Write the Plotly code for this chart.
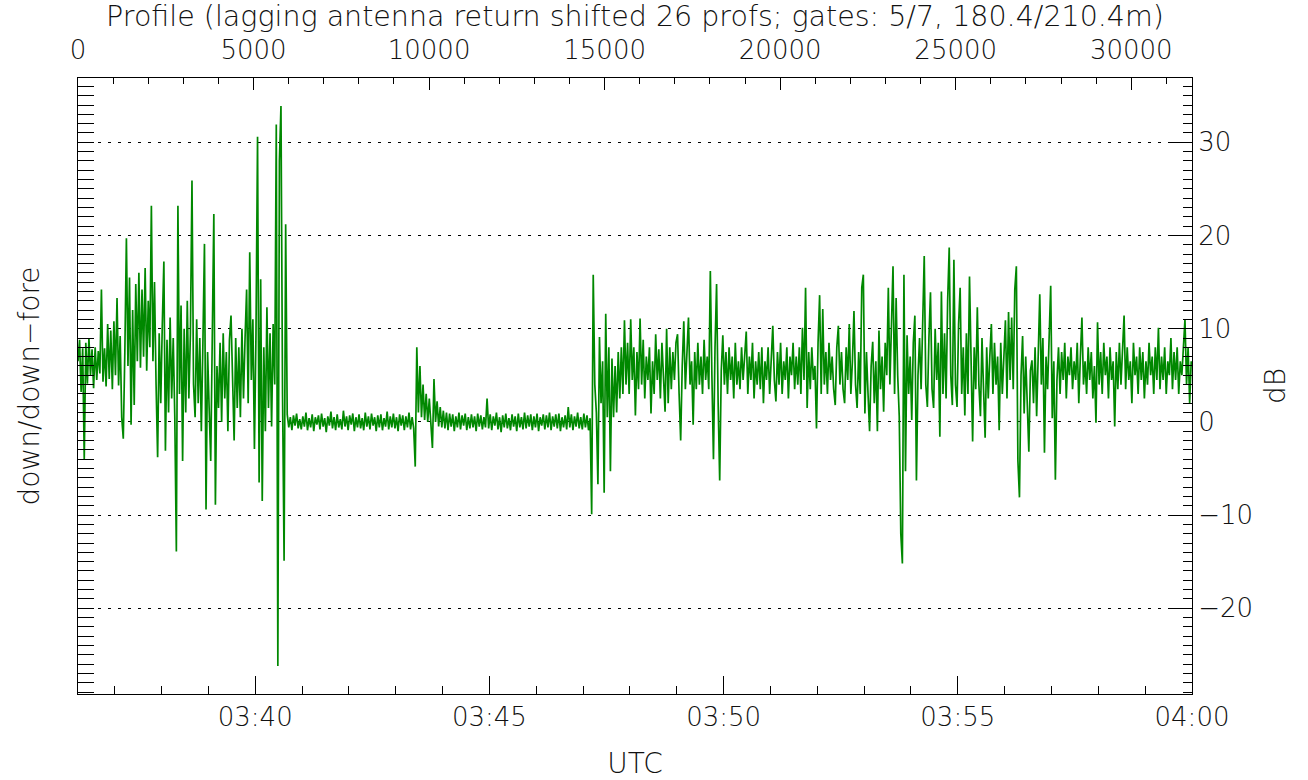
import pandas as pd
import plotly.graph_objects as go

# sampling: 2 s steps starting 03:36:13 UTC
start_time = "2000-01-01 03:36:13"
step_seconds = 2
x_time_range = ["2000-01-01 03:36:13", "2000-01-01 04:00:00"]
profile_range = [0, 31730]
db_range = [-29.2, 36.9]

# active segment (03:36 - 03:40:40)
seg_active_1 = [
    6.5, 8.8, 3.2, 7.9, -4.0, 8.5, 4.1, 9.0, 5.0, 7.8,
    3.6, 8.0, 4.5, 7.6, 5.2, 14.2, 4.3, 7.9, 3.8, 10.5,
    4.6, 9.8, 3.5, 10.8, 5.0, 13.3, 3.9, 9.2, 0.5, -1.8,
    7.5, 19.7, 6.0, 15.5, -0.3, 12.0, 1.8, 14.8, 6.5, 16.0,
    5.8, 14.2, 7.0, 16.5, 5.5, 13.0, 8.0, 23.2, 6.5, 15.0,
    4.0, -3.8, 9.5, 2.0, 10.5, 17.2, -3.1, 8.8, 1.0, 11.2,
    2.5, 9.0, 0.5, -13.9, 23.2, 3.0, 12.5, -4.2, 10.0, 1.0,
    13.0, 2.5, 9.5, 25.9, 4.0, 0.5, 11.0, 2.0, 9.0, -1.0,
    8.5, 19.1, -9.4, 7.5, 1.5, -4.2, 9.0, 22.3, -8.9, 6.0,
    1.5, 8.5, 0.0, 9.5, 2.5, 7.5, -1.0, 8.8, 11.4, 3.0,
    -2.0, 9.0, 1.5, 8.0, 0.5, 10.0, 2.5, 9.0, 14.2, 2.0,
    18.2, 4.5, 11.0, -2.9, 9.5, 30.6, -6.5, 15.3, -8.5, 8.0,
    -1.0, 12.3, 1.5, 9.5, -0.5, 10.5, 4.0, 31.9, -26.2, 28.0,
    33.9, 3.0, -14.9, 21.2,
]

# quiet segment (03:40:41 - 03:47:09)
seg_quiet = [
    0.8, -0.6, 0.5, -0.9, 0.7, -0.4, 0.9, -0.7, 0.3, -0.8,
    0.6, -0.5, 1.0, -0.9, 0.4, -0.6, 0.8, -1.0, 0.5, -0.3,
    0.7, -0.8, 0.9, -0.5, 0.4, -1.1, 0.6, -0.4, 1.1, -0.7,
    0.5, -0.9, 0.8, -0.6, 0.3, -0.8, 1.2, -0.5, 0.6, -0.9,
    0.7, -0.3, 0.9, -1.0, 0.5, -0.6, 0.8, -0.7, 0.4, -0.9,
    1.0, -0.5, 0.6, -0.8, 0.9, -0.4, 0.5, -1.0, 0.7, -0.6,
    0.8, -0.9, 0.4, -0.5, 1.1, -0.8, 0.6, -0.6, 0.9, -0.7,
    0.5, -1.0, 0.8, -0.4, 0.7, -0.9, 0.6, -0.6, 1.0, -0.8,
    0.5, -0.7, -4.8, 8.0, 1.0, 6.0, 0.5, 4.0, 0.2, 3.0,
    0.0, 2.5, 0.3, -2.8, 4.6, 0.0, 2.2, -0.5, 1.6, -0.6,
    1.2, -0.7, 1.0, -0.9, 0.9, -0.5, 0.8, -1.0, 0.6, -0.6,
    1.0, -0.8, 0.7, -0.4, 0.9, -0.9, 0.5, -0.7, 0.8, -0.6,
    0.6, -1.0, 0.9, -0.5, 0.7, -0.8, 0.5, -0.6, 2.5, -0.7,
    0.8, -0.9, 0.6, -0.4, 1.0, -0.8, 0.5, -1.1, 0.7, -0.6,
    0.9, -0.7, 0.4, -0.9, 0.8, -0.5, 0.6, -1.0, 0.9, -0.6,
    0.5, -0.8, 1.0, -0.7, 0.7, -0.5, 0.8, -0.9, 0.6, -0.6,
    0.9, -1.0, 0.5, -0.4, 0.8, -0.8, 0.7, -0.6, 1.0, -0.9,
    0.6, -0.5, 0.8, -0.7, 0.9, -1.0, 0.5, -0.6, 0.7, -0.8,
    1.6, -0.6, 0.8, -0.9, 0.6, -0.5, 1.0, -0.7, 0.5, -0.8,
    0.9, -0.6, 0.7, -0.9, 0.4,
]

# active segment (03:47:11 - 04:00)
seg_active_2 = [
    -9.9, 15.8, 4.0, 1.0, -6.7, 9.1, 2.0, 6.5, -7.6, 11.6,
    0.5, 8.0, -5.3, 6.8, 0.5, 6.0, 1.0, 7.5, 2.5, 8.0,
    3.0, 10.9, 4.0, 8.5, 3.0, 11.0, 4.5, 8.0, 0.7, 7.5,
    3.5, 11.1, 4.0, 8.8, 2.5, 7.0, 4.5, 8.0, 0.9, 6.5,
    3.0, 9.4, 4.5, 7.8, 2.5, 8.5, 4.0, 1.1, 10.0, 2.0,
    8.0, 3.5, 7.5, 4.5, 8.5, 9.4, 3.0, -2.0, 6.0, 10.8,
    3.5, 8.0, 11.2, 4.0, 6.5, -0.3, 7.5, 3.5, 8.5, 4.0,
    7.0, 3.0, 8.8, 4.5, 7.0, 3.5, 16.2, 5.0, -4.0, 8.0,
    14.8, 2.0, -6.3, 5.5, 9.3, 4.0, 7.5, 3.0, 8.0, 4.5,
    7.0, 2.5, 8.5, 4.0, 6.5, 3.5, 8.0, 4.5, 7.5, 9.7,
    3.0, 7.0, 4.5, 8.5, 2.5, 6.5, 4.0, 7.5, 3.5, 8.0,
    2.0, 6.5, 4.5, 8.0, 3.0, 7.0, 10.3, 4.5, 2.2, 7.5,
    4.0, 8.5, 3.0, 6.5, 4.5, 8.0, 2.5, 7.0, 5.0, 8.5,
    3.5, 7.0, 4.0, 8.0, 3.0, 10.1, 4.5, 14.4, 1.5, 7.5,
    3.5, 8.0, 4.5, 6.0, -0.7, 8.5, 13.6, 3.0, 12.1, 4.0,
    7.5, 3.0, 8.5, 4.5, 7.0, 3.5, 1.8, 8.0, 10.3, 4.0,
    7.5, 3.5, 2.0, 8.0, 4.5, 10.5, 3.0, 6.5, 11.9, 4.0,
    1.5, 7.5, 3.0, 14.4, 15.8, 0.9, 7.5, 3.0, -1.0, 6.0,
    8.6, 2.0, 6.5, -1.0, 9.8, 3.5, 7.0, 1.1, 8.5, 5.0,
    14.4, 4.0, 9.5, 16.7, 3.0, 13.3, 5.0, 0.6, -12.0, -15.2,
    15.8, -5.3, 9.3, 3.0, 7.0, 0.2, 8.5, 11.4, -6.3, 5.0,
    9.0, 3.5, 10.5, 17.8, 4.0, 1.6, 9.0, 13.9, 3.5, 1.5,
    10.0, 4.5, 8.5, -1.6, 14.0, 3.0, 9.5, 2.5, 13.0, 18.7,
    5.0, 1.8, 17.4, 4.0, 1.6, 10.5, 14.4, 3.0, 8.0, 0.7,
    9.5, 3.0, 15.6, 5.0, -2.1, 8.0, 3.5, 12.3, 4.0, 0.6,
    9.0, 3.5, -1.7, 8.0, 2.5, 7.0, 10.5, 3.0, 8.5, 4.0,
    7.0, -0.9, 8.5, 3.0, 7.5, 10.9, 2.5, 11.8, 4.5, 11.2,
    3.5, 14.2, 16.7, -4.2, -8.1, 5.0, 9.2, 0.9, 7.0, 2.5,
    -3.2, 5.5, 6.6, 2.0, 8.0, 0.6, 7.5, 13.7, 4.0, 9.0,
    -3.3, 7.0, 3.5, 10.0, 14.6, 0.4, 6.5, -6.2, 4.5, 8.0,
    3.0, 7.5, 4.5, 8.5, 2.5, 7.0, 5.0, 8.0, 3.5, 6.5,
    4.5, 8.5, 2.0, 7.0, 11.2, 4.0, 6.5, 3.0, 8.0, 4.5,
    7.5, 2.5, 6.0, -0.1, 10.7, 4.0, 7.5, 3.0, 8.5, 5.0,
    7.0, 2.5, 8.0, 4.5, 6.5, -0.5, 7.5, 3.5, 8.5, 4.0,
    7.0, 11.4, 3.5, 8.0, 4.5, 6.5, 2.0, 8.5, 5.0, 7.0,
    3.0, 8.0, 4.5, 7.5, 2.5, 6.5, 4.0, 8.5, 5.0, 7.0,
    3.0, 8.0, 4.5, 10.1, 3.5, 7.0, 4.5, 8.0, 3.0, 6.5,
    5.0, 9.0, 3.5, 7.5, 4.5, 8.0, 3.0, 6.5, 5.0, 7.5,
    11.0, 4.0, 8.0, 2.0, 6.5,
]

values_db = seg_active_1 + seg_quiet + seg_active_2
times = pd.date_range(start=start_time, periods=len(values_db), freq=f"{step_seconds}s")

FONT = "DejaVu Sans"
TXT = "#111111"
FS = 26
TFS = 28
FW = 200

def tfont(size):
    return dict(family=FONT, size=size, color=TXT, weight=FW)

fig = go.Figure()
fig.add_trace(go.Scatter(
    x=times, y=values_db, mode="lines",
    line=dict(color="#008800", width=1.7),
    xaxis="x", yaxis="y", hoverinfo="skip", showlegend=False,
))
# carrier trace for the profile / left axes
fig.add_trace(go.Scatter(
    x=profile_range, y=[0, 0], mode="lines", opacity=0,
    line=dict(width=0), xaxis="x2", yaxis="y2",
    hoverinfo="skip", showlegend=False,
))

axis_common = dict(showline=True, linecolor="black", linewidth=1, mirror=False,
                   zeroline=False, tickcolor="black", ticks="inside",
                   automargin=False, tickfont=tfont(FS))

fig.update_layout(
    width=1308, height=780,
    margin=dict(l=78, r=116, t=78, b=86),
    paper_bgcolor="white", plot_bgcolor="white",
    font=tfont(FS),
    xaxis=dict(
        **axis_common, type="date", range=x_time_range, side="bottom",
        anchor="y", showgrid=False,
        tick0="2000-01-01 03:35:00", dtick=300000, tickformat="%H:%M", ticklen=18,
        minor=dict(dtick=60000, ticklen=8, ticks="inside", tickcolor="black"),
        title=dict(text="UTC", standoff=24, font=tfont(TFS)),
    ),
    xaxis2=dict(
        **axis_common, overlaying="x", side="top", anchor="y2",
        range=profile_range, showgrid=False, tick0=0, dtick=5000, ticklen=12,
        tickformat="d", ticklabelstandoff=8,
        minor=dict(dtick=1000, ticklen=6, ticks="inside", tickcolor="black"),
        title=dict(text="Profile (lagging antenna return shifted 26 profs; gates: 5/7, 180.4/210.4m)",
                   standoff=4, font=tfont(28.5)),
    ),
    yaxis=dict(
        **axis_common, side="right", anchor="x", range=db_range,
        tick0=0, dtick=10, ticklen=22,
        showgrid=True, gridcolor="black", gridwidth=1, griddash="3px,7px",
        minor=dict(dtick=1, ticklen=9, ticks="inside", tickcolor="black", showgrid=False),
        title=dict(text="dB", standoff=13, font=tfont(TFS)),
    ),
    yaxis2=dict(
        **axis_common, side="left", overlaying="y", anchor="x", range=db_range,
        tick0=0, dtick=1, ticklen=16, showticklabels=False, showgrid=False,
        title=dict(text="down/down\u2212fore", standoff=29, font=tfont(TFS)),
    ),
)

fig.write_html("out.html")
